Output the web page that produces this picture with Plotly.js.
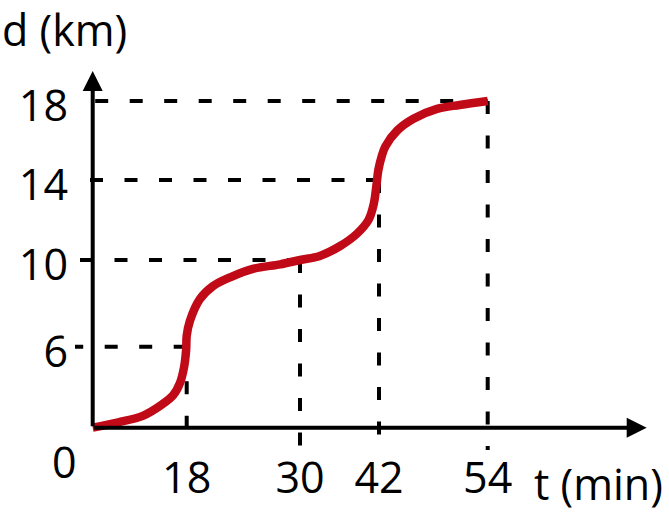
<!DOCTYPE html>
<html>
<head>
<meta charset="utf-8">
<script src="https://cdn.plot.ly/plotly-3.0.1.min.js"></script>
<style>
  html, body { margin: 0; padding: 0; background: #fff; }
  #chart { width: 669px; height: 512px; }
</style>
</head>
<body>
<div id="chart"></div>
<script>
// ----- data: distance d (km) against time t (min) -----
const tTicks = [18, 30, 42, 54];
const dTicks = [6, 10, 14, 18];
const tLabels = ["18", "30", "42", "54"];
const dLabels = ["6", "10", "14", "18"];

const curveT = [0, 4.9, 9.7, 13.2, 15.4, 16.7, 17.5, 17.9, 18.0, 18.35, 19.4, 20.8, 22.6, 25.1, 27.9,
                30.0, 33.0, 36.1, 38.6, 40.4, 41.2, 41.6, 41.9, 42.3, 42.7, 44.0, 45.8, 48.4, 50.9, 54];
const curveD = [0, 0.4, 0.9, 1.7, 2.4, 3.3, 4.5, 5.8, 6.5, 7.2, 8.2, 8.8, 9.2, 9.6, 9.8,
                10.0, 10.2, 10.7, 11.3, 12.0, 12.8, 13.7, 14.5, 15.2, 15.7, 16.5, 17.1, 17.6, 17.8, 18];

// ----- schematic axes: the sketch is not to scale, so each tick gets its own spacing -----
const X_STOPS = [0, 94, 207.3, 286.3, 395];     // axis units for t = 0,18,30,42,54
const Y_STOPS = [0, 81, 167.7, 247.7, 326.7];   // axis units for d = 0,6,10,14,18
const X_RANGE = [-17.7, 566.3];
const Y_RANGE = [-24.3, 367.7];

function warp(v, vals, stops) {
  for (let i = 1; i < vals.length; i++) {
    if (v <= vals[i] || i === vals.length - 1) {
      const f = (v - vals[i - 1]) / (vals[i] - vals[i - 1]);
      return stops[i - 1] + f * (stops[i] - stops[i - 1]);
    }
  }
}
const sx = v => warp(v, [0].concat(tTicks), X_STOPS);
const sy = v => warp(v, [0].concat(dTicks), Y_STOPS);

const FONT = "'Open Sans', 'Noto Sans', sans-serif";
const FS = 43;
const RED = "#c10a18";

const curve = {
  type: "scatter",
  mode: "lines",
  x: curveT.map(sx),
  y: curveD.map(sy),
  line: { color: RED, width: 8.5, shape: "spline", smoothing: 1 },
  hoverinfo: "skip",
  showlegend: false
};

// dashed guides from each marked point to both axes
const guides = [];
tTicks.forEach((t, i) => {
  const gx = sx(t), gy = sy(dTicks[i]);
  const dash = { color: "#000", width: 4, dash: "13px,21.5px" };
  guides.push({ type: "line", xref: "x", yref: "y", x0: gx, y0: gy, x1: X_RANGE[0], y1: gy, line: dash, layer: "below" });
  guides.push({ type: "line", xref: "x", yref: "y", x0: gx, y0: gy, x1: gx, y1: Y_RANGE[0] + 2, line: dash, layer: "below" });
});

const arrow = (x, y) => ({
  x: x, y: y, ax: 0, ay: 0, xref: "x", yref: "y", axref: "x", ayref: "y",
  text: "", showarrow: true, arrowhead: 2, arrowsize: 1.0, arrowwidth: 4, arrowcolor: "#000", standoff: 0
});

const txt = { size: FS, family: FONT, color: "#000" };

const layout = {
  width: 669, height: 512,
  margin: { l: 75, r: 10, t: 60, b: 60 },
  paper_bgcolor: "#fff", plot_bgcolor: "#fff",
  font: { family: FONT, color: "#000" },
  xaxis: {
    range: X_RANGE, showgrid: false, zeroline: false, showline: false, ticks: "",
    tickvals: tTicks.map(sx), ticktext: tLabels,
    tickfont: txt, ticklabelstandoff: -3,
    fixedrange: true
  },
  yaxis: {
    range: Y_RANGE, showgrid: false, zeroline: false, showline: false, ticks: "",
    tickvals: dTicks.map(sy), ticktext: dLabels,
    tickfont: txt,
    ticklabelshift: 5, ticklabelstandoff: 6,
    fixedrange: true
  },
  shapes: guides,
  annotations: [
    arrow(554, 0),
    arrow(0, 356.7),
    { x: 0, y: 0, xref: "x", yref: "y", text: "0", showarrow: false,
      xshift: -28, yshift: -34, font: txt },
    { x: -75 / 584, y: (452 - 29) / 392, xref: "paper", yref: "paper", text: "d (km)", showarrow: false,
      xanchor: "left", yanchor: "middle", font: txt },
    { x: 523 / 584, y: (452 - 483) / 392, xref: "paper", yref: "paper", text: "t (min)", showarrow: false,
      xanchor: "center", yanchor: "middle", font: txt }
  ]
};

Plotly.newPlot("chart", [curve], layout, { displayModeBar: false, staticPlot: true });
</script>
</body>
</html>
